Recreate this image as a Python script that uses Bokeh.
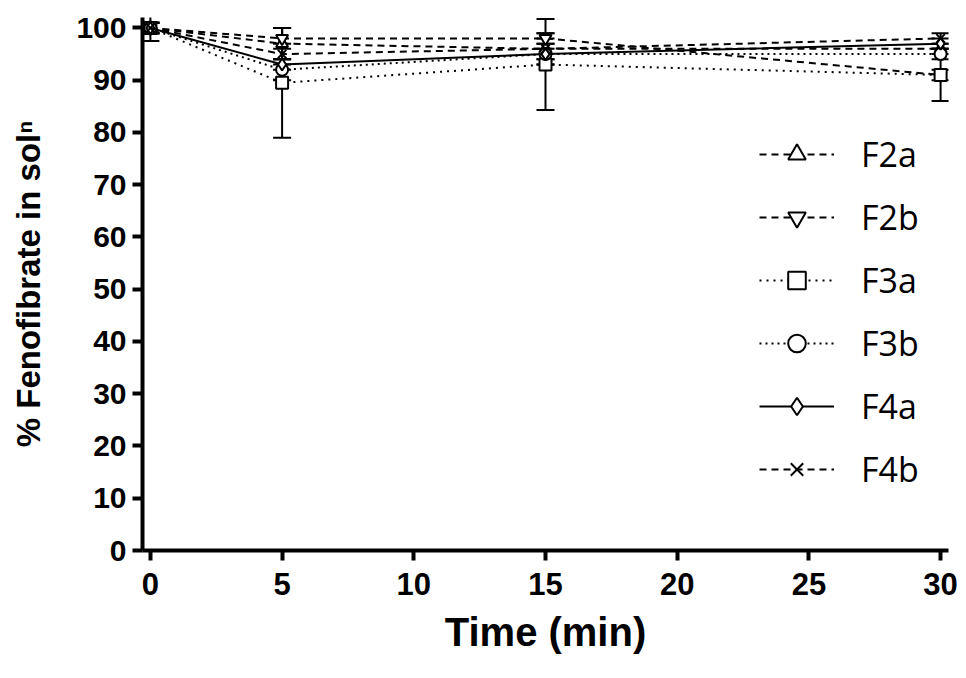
from bokeh.plotting import figure
from bokeh.models import Range1d, Legend, LegendItem, ColumnDataSource, Whisker, TeeHead, FixedTicker
from bokeh.embed import file_html
from bokeh.resources import INLINE

time = [0, 5, 15, 30]
names = ["F2a", "F2b", "F3a", "F3b", "F4a", "F4b"]
F2a = [100, 97, 96, 96]
F2b = [100, 98, 98, 91]
F3a = [100, 89.5, 93, 91]
F3b = [100, 92, 95, 95]
F4a = [100, 93, 95, 97]
F4b = [100, 95, 96, 98]
F2a_sd = [1, 3, 2, 1]
F2b_sd = [1, 2, 1, 1]
F3a_sd = [2.5, 10.5, 8.7, 5]
F3b_sd = [1, 2, 2, 1]
F4a_sd = [1, 1, 1, 1]
F4b_sd = [1, 2, 3, 1]
x_ticks = [0, 5, 10, 15, 20, 25, 30]
y_ticks = [0, 10, 20, 30, 40, 50, 60, 70, 80, 90, 100]

series = [F2a, F2b, F3a, F3b, F4a, F4b]
sds = [F2a_sd, F2b_sd, F3a_sd, F3b_sd, F4a_sd, F4b_sd]
markers = ["triangle", "inverted_triangle", "square", "circle", "diamond", "x"]
dashes = ["7 5", "7 5", "2 5", "2 4", "solid", "7 5"]

p = figure(width=958, height=660, output_backend="svg", toolbar_location=None,
           x_range=Range1d(-0.3, 30.3), y_range=Range1d(0, 102),
           min_border_left=142, min_border_right=10, min_border_top=17, min_border_bottom=110)
p.outline_line_color = None
p.grid.visible = False

items = []
for name, ys, sd, mk, dash in zip(names, series, sds, markers, dashes):
    src = ColumnDataSource(dict(x=time, y=ys,
                                lo=[a - b for a, b in zip(ys, sd)],
                                hi=[a + b for a, b in zip(ys, sd)]))
    w = Whisker(base="x", upper="hi", lower="lo", source=src, dimension="height",
                line_color="black", line_width=2,
                upper_head=TeeHead(size=18, line_width=2, line_color="black"),
                lower_head=TeeHead(size=18, line_width=2, line_color="black"))
    p.add_layout(w)
    ln = p.line("x", "y", source=src, line_color="black", line_width=2, line_dash=dash)
    sc = p.scatter("x", "y", source=src, marker=mk, size=12, fill_color="white",
                   line_color="black", line_width=2)
    items.append(LegendItem(label=name, renderers=[ln, sc]))

legend = Legend(items=items, location=(617, 58), glyph_width=75, glyph_height=44,
                label_height=44, spacing=17, padding=0, margin=0, label_standoff=27,
                border_line_color=None, background_fill_alpha=0,
                label_text_font="Open Sans", label_text_font_size="34px",
                label_text_color="black")
p.add_layout(legend, "center")

for ax in (p.xaxis, p.yaxis):
    ax.axis_line_width = 4
    ax.axis_line_color = "black"
    ax.major_tick_line_width = 4
    ax.major_tick_line_color = "black"
    ax.major_tick_out = 10
    ax.major_tick_in = 0
    ax.minor_tick_line_color = None
    ax.major_label_text_font = "Liberation Sans"
    ax.major_label_text_font_style = "bold"
    ax.major_label_text_color = "black"
    ax.axis_label_text_font = "Liberation Sans"
    ax.axis_label_text_font_style = "bold"
    ax.axis_label_text_color = "black"

p.xaxis.ticker = FixedTicker(ticks=x_ticks)
p.yaxis.ticker = FixedTicker(ticks=y_ticks)
p.xaxis.major_label_text_font_size = "31px"
p.yaxis.major_label_text_font_size = "30px"
p.xaxis.axis_label = "Time (min)"
p.yaxis.axis_label = "% Fenofibrate in solⁿ"
p.xaxis.axis_label_text_font_size = "40px"
p.yaxis.axis_label_text_font_size = "33px"
p.xaxis.major_label_standoff = 12
p.yaxis.major_label_standoff = 6
p.xaxis.axis_label_standoff = 12
p.yaxis.axis_label_standoff = 26

open("out.html", "w").write(file_html(p, INLINE))
